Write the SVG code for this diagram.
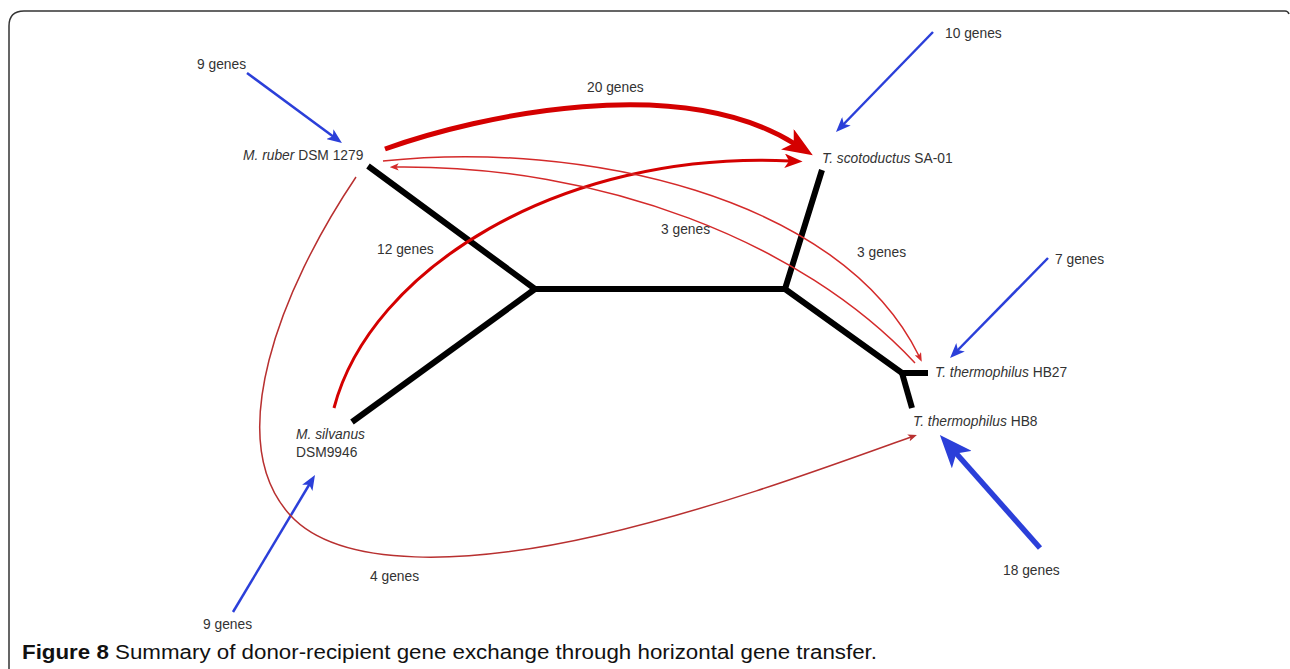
<svg xmlns="http://www.w3.org/2000/svg" width="1290" height="669" viewBox="0 0 1290 669">
<style>
.lbl{font-family:"Liberation Sans",Arial,sans-serif;font-size:13.8px;fill:#333}
.it{font-style:italic}
.tree{stroke:#000;stroke-width:6;fill:none;stroke-linecap:butt}
.blue{stroke:#2b3fd9;fill:none}
.red{stroke:#d40000;fill:none}
.redthin{stroke:#d42a2a;fill:none;stroke-width:1.5}
.reddark{stroke:#b83030;fill:none;stroke-width:1.5}
.cap{font-family:"Liberation Sans",Arial,sans-serif;font-size:20px;fill:#111}
</style>
<defs>
<marker id="ab" viewBox="0 0 10 8" refX="3" refY="4" markerWidth="6" markerHeight="4.8" orient="auto"><path d="M0,0 L10,4 L0,8 L2.5,4 z" fill="#2b3fd9"/></marker>
<marker id="ar" viewBox="0 0 10 8" refX="3" refY="4" markerWidth="6" markerHeight="4.8" orient="auto"><path d="M0,0 L10,4 L0,8 L2.5,4 z" fill="#d40000"/></marker>
<marker id="art" viewBox="0 0 10 8" refX="3" refY="4" markerWidth="6" markerHeight="4.8" orient="auto"><path d="M0,0 L10,4 L0,8 L2.5,4 z" fill="#d42a2a"/></marker>
<marker id="ard" viewBox="0 0 10 8" refX="3" refY="4" markerWidth="6" markerHeight="4.8" orient="auto"><path d="M0,0 L10,4 L0,8 L2.5,4 z" fill="#b83030"/></marker>
</defs>
<rect width="1290" height="669" fill="#fff"/>
<path d="M9,669 V26 Q9,11 24,11 H1285 Q1288,11 1289,14" fill="none" stroke="#333" stroke-width="1.5"/>

<g id="tree">
<path class="tree" d="M368,166 L535,289 L785,289 L822,170"/>
<path class="tree" d="M352,422 L535,289"/>
<path class="tree" d="M785,289 L902,373 L928,373"/>
<path class="tree" d="M902,373 L912,408"/>
</g>

<g id="connectors">
<path class="blue" stroke-width="2.5" marker-end="url(#ab)" d="M247,73 L333.5,136.8"/>
<path class="blue" stroke-width="2.5" marker-end="url(#ab)" d="M933,32 L843.3,124.5"/>
<path class="blue" stroke-width="2.5" marker-end="url(#ab)" d="M1048,258 L957.4,350.5"/>
<path class="blue" stroke-width="5.5" marker-end="url(#ab)" d="M1040,548 L955.2,452.2"/>
<path class="blue" stroke-width="2.5" marker-end="url(#ab)" d="M233,612 L309.6,484"/>
<path class="red" stroke-width="5" marker-end="url(#ar)" d="M385,149 C480,115 680,72 795,144"/>
<path class="red" stroke-width="3" marker-end="url(#ar)" d="M334,408 C370,270 560,150 790,161"/>
<path class="redthin" marker-end="url(#art)" d="M383,161 C580,140 840,195 919,356"/>
<path class="redthin" marker-end="url(#art)" d="M915,363 C800,240 600,165 396,167"/>
<path class="reddark" marker-end="url(#ard)" d="M356,177 C280,290 222,440 290,515 C340,570 470,565 600,535 C720,507 830,466 911,437"/>
<text class="lbl" x="197" y="69">9 genes</text>
<text class="lbl" x="587" y="92">20 genes</text>
<text class="lbl" x="945" y="38">10 genes</text>
<text class="lbl" x="377" y="254">12 genes</text>
<text class="lbl" x="661" y="234">3 genes</text>
<text class="lbl" x="857" y="257">3 genes</text>
<text class="lbl" x="1055" y="264">7 genes</text>
<text class="lbl" x="1003" y="575">18 genes</text>
<text class="lbl" x="370" y="581">4 genes</text>
<text class="lbl" x="203" y="629">9 genes</text>
</g>

<g id="node-mruber"><text class="lbl" x="243" y="160"><tspan class="it">M. ruber</tspan> DSM 1279</text></g>
<g id="node-tscotoductus"><text class="lbl" x="822" y="163"><tspan class="it">T. scotoductus</tspan> SA-01</text></g>
<g id="node-hb27"><text class="lbl" x="935" y="377"><tspan class="it">T. thermophilus</tspan> HB27</text></g>
<g id="node-hb8"><text class="lbl" x="913" y="426"><tspan class="it">T. thermophilus</tspan> HB8</text></g>
<g id="node-msilvanus"><text class="lbl" x="296" y="439"><tspan class="it">M. silvanus</tspan></text><text class="lbl" x="296" y="457">DSM9946</text></g>

<text class="cap" x="22" y="659" textLength="855" lengthAdjust="spacingAndGlyphs"><tspan font-weight="bold">Figure 8</tspan> Summary of donor-recipient gene exchange through horizontal gene transfer.</text>
</svg>
